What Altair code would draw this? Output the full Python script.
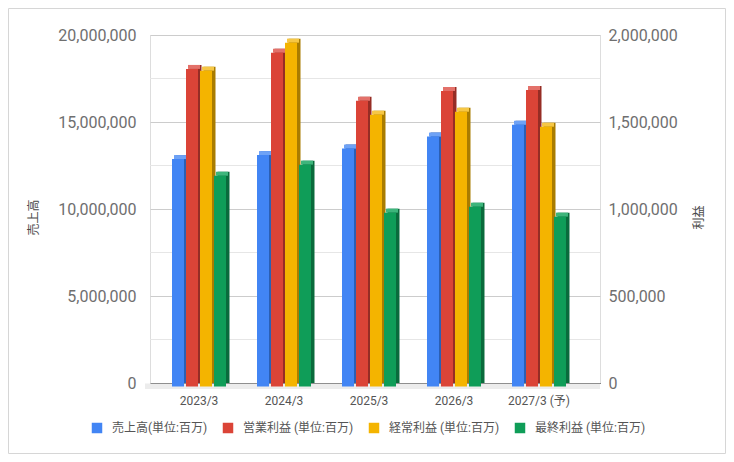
import altair as alt
import pandas as pd

years = ["2023/3", "2024/3", "2025/3", "2026/3", "2027/3 (予)"]
series_names = ["売上高(単位:百万)", "営業利益 (単位:百万)", "経常利益 (単位:百万)", "最終利益 (単位:百万)"]
sales = [13100000, 13330000, 13700000, 14390000, 15070000]
operating_profit = [1828000, 1921000, 1645000, 1701000, 1707000]
ordinary_profit = [1818000, 1979000, 1565000, 1582000, 1496000]
net_profit = [1214000, 1278000, 1002000, 1036000, 979000]
left_ticks = [0, 5000000, 10000000, 15000000, 20000000]
left_minor = [2500000, 7500000, 12500000, 17500000]
right_ticks = [0, 500000, 1000000, 1500000, 2000000]

front_colors = ["#4285F4", "#DB4437", "#F4B400", "#0F9D58"]
side_colors = ["#2c5fb3", "#962d25", "#a97c00", "#0a6b3c"]
cap_colors = ["#6ea2f6", "#e3716a", "#f6c745", "#3db57b"]

FONT = "Roboto, 'Noto Sans CJK JP', sans-serif"
TITLE_COLOR = "#4a4a4a"

rows = []
for name, vals in zip(series_names, [sales, operating_profit, ordinary_profit, net_profit]):
    for y, v in zip(years, vals):
        rows.append({"year": y, "series": name, "value": v})
df = pd.DataFrame(rows)

x_enc = alt.X(
    "year:N", sort=years,
    scale=alt.Scale(paddingInner=0.8588, paddingOuter=0.5765),
    axis=alt.Axis(title=None, labelAngle=0, labelFontSize=12, labelColor="#555555",
                  labelPadding=12, ticks=False, domainColor="#333333", labelOffset=-6,
                  grid=False, labelFont=FONT),
)

y_left = alt.Y(
    "value:Q",
    scale=alt.Scale(domain=[0, 20000000], nice=False),
    axis=alt.Axis(orient="left", values=left_ticks, labelExpr="format(datum.value, ',')",
                  labelFontSize=16,
                  labelColor="#6f6f6f", labelPadding=14, ticks=False, domain=False,
                  grid=True, gridColor="#cccccc", labelFont=FONT,
                  title="売上高", titleFontSize=12, titleColor=TITLE_COLOR,
                  titleFontWeight="normal", titleAngle=270, titleX=-117, titleY=182,
                  titleBaseline="middle", titleAlign="center", titleFont=FONT),
)

y_right = alt.Y(
    "value:Q",
    scale=alt.Scale(domain=[0, 2000000], nice=False),
    axis=alt.Axis(orient="right", values=right_ticks, labelExpr="format(datum.value, ',')",
                  labelFontSize=16,
                  labelColor="#6f6f6f", labelPadding=8, ticks=False, domain=False,
                  grid=False, labelFont=FONT,
                  title="利益", titleFontSize=12, titleColor=TITLE_COLOR,
                  titleFontWeight="normal", titleAngle=270, titleX=98, titleY=182,
                  titleBaseline="middle", titleAlign="center", titleFont=FONT),
)

color_enc = alt.Color(
    "series:N",
    scale=alt.Scale(domain=series_names, range=front_colors),
    legend=alt.Legend(title=None, orient="none", legendX=-59, legendY=387,
                      direction="horizontal", symbolType="square", symbolSize=110,
                      symbolStrokeWidth=0, labelFontSize=12, labelColor="#555555",
                      labelOffset=9, columnPadding=14, labelFont=FONT),
)


def series_layers(i, y_enc):
    name = series_names[i]
    base = alt.Chart(df).transform_filter(alt.datum.series == name)
    off = -27 + 14 * i
    side = base.mark_bar(color=side_colors[i], xOffset=off + 3.5).encode(
        x=x_enc, y=y_enc, y2=alt.datum(0))
    cap = base.mark_bar(color=cap_colors[i], xOffset=off + 2, y2Offset=4).encode(
        x=x_enc, y=y_enc, y2=alt.Y2("value"))
    front = base.mark_bar(xOffset=off, yOffset=4, y2Offset=3.5).encode(
        x=x_enc, y=y_enc, y2=alt.datum(0), color=color_enc)
    return [side, cap, front]


one = pd.DataFrame({"a": [0]})
floor = alt.Chart(one).mark_rect(color="#ececec").encode(
    x=alt.value(-5), x2=alt.value(450), y=alt.value(348.5), y2=alt.value(354))
minor = alt.Chart(pd.DataFrame({"value": left_minor})).mark_rule(
    color="#e6e6e6", strokeWidth=1).encode(y=y_left)
frame = alt.Chart(one).mark_rect(filled=False, stroke="#d6d6d6", strokeWidth=1).encode(
    x=alt.value(-141.5), x2=alt.value(575.5), y=alt.value(-26.5), y2=alt.value(418.5))

left_group = alt.layer(floor, minor, *series_layers(0, y_left))
right_group = alt.layer(*(l for i in (1, 2, 3) for l in series_layers(i, y_right)))

chart = alt.layer(left_group, right_group, frame).resolve_scale(y="independent").properties(
    width=450, height=348,
    autosize=alt.AutoSizeParams(type="none"),
    padding={"left": 142, "top": 27, "right": 126, "bottom": 71},
    background="white",
).configure_view(strokeOpacity=0).configure_axis(titleColor=TITLE_COLOR).configure(font=FONT)

chart.save("out.html", embed_options={"renderer": "svg", "actions": False})
